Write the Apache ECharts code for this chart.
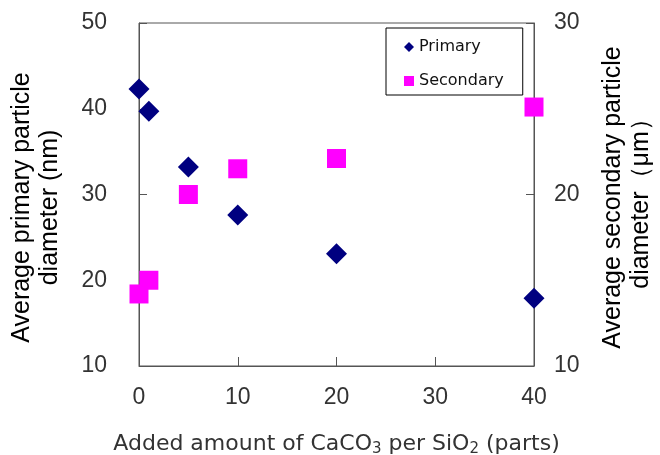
<!DOCTYPE html>
<html>
<head>
<meta charset="utf-8">
<script src="https://cdn.jsdelivr.net/npm/echarts@6/dist/echarts.min.js"></script>
<style>
  html, body { margin: 0; padding: 0; background: #fff; }
  #chart { width: 660px; height: 455px; }
</style>
</head>
<body>
<div id="chart"></div>
<script>
// Amount of CaCO3 added per SiO2 (parts)
const addedAmount = [0, 1, 5, 10, 20, 40];
// Average primary particle diameter (nm), left axis
const primaryDiameter = [42.3, 39.7, 33.2, 27.6, 23.1, 17.9];
// Average secondary particle diameter (μm), right axis
const secondaryDiameter = [14.2, 15.0, 20.0, 21.5, 22.1, 25.1];

const xTicks = [0, 10, 20, 30, 40];
const leftTicks = [10, 20, 30, 40, 50];
const rightTicks = [10, 20, 30];

const axisColor = '#555';
const labelColor = '#333';
const font = 'Liberation Sans, Arial, sans-serif';
const wideFont = 'DejaVu Sans, sans-serif';

const chart = echarts.init(document.getElementById('chart'));

chart.setOption({
  animation: false,
  backgroundColor: '#fff',
  grid: {
    left: 139, right: 126, top: 23, bottom: 89,
    containLabel: false,
    outerBoundsMode: 'none',
    show: true, borderColor: axisColor, borderWidth: 1
  },
  legend: {
    orient: 'vertical',
    left: 386, top: 28,
    padding: [11, 19, 6, 18],
    itemGap: 18,
    itemWidth: 10, itemHeight: 10,
    backgroundColor: '#fff',
    borderColor: '#000', borderWidth: 1,
    textStyle: { fontFamily: wideFont, fontSize: 16, color: '#111' },
    data: [
      { name: 'Primary', icon: 'diamond' },
      { name: 'Secondary', icon: 'rect' }
    ]
  },
  xAxis: {
    type: 'value',
    min: xTicks[0], max: xTicks[xTicks.length - 1], interval: 10,
    axisLine: { lineStyle: { color: axisColor } },
    axisTick: { inside: true, length: 9, lineStyle: { color: axisColor } },
    splitLine: { show: false },
    axisLabel: { margin: 20, fontFamily: font, fontSize: 23, color: labelColor },
    name: '{a|Added amount of CaCO}{s|3}{a| per SiO}{s|2}{a| (parts)}',
    nameLocation: 'middle',
    nameGap: 65,
    nameTextStyle: {
      rich: {
        a: { fontFamily: wideFont, fontSize: 22, color: labelColor },
        s: { fontFamily: wideFont, fontSize: 15, color: labelColor, padding: [11, 0, 0, 0] }
      }
    }
  },
  yAxis: [
    {
      type: 'value',
      min: leftTicks[0], max: leftTicks[leftTicks.length - 1], interval: 10,
      axisLine: { show: true, lineStyle: { color: axisColor } },
      axisTick: { show: true, inside: true, length: 8, lineStyle: { color: axisColor } },
      splitLine: { show: false },
      axisLabel: { margin: 32, fontFamily: font, fontSize: 23, color: labelColor },
      name: 'Average primary particle\ndiameter (nm)',
      nameLocation: 'middle',
      nameRotate: 90,
      nameGap: 75,
      nameTextStyle: { fontFamily: font, fontSize: 25, color: '#000', lineHeight: 28, padding: [0, 26, 0, 0] }
    },
    {
      type: 'value',
      position: 'right',
      min: rightTicks[0], max: rightTicks[rightTicks.length - 1], interval: 10,
      axisLine: { show: true, lineStyle: { color: axisColor } },
      axisTick: { show: true, inside: true, length: 8, lineStyle: { color: axisColor } },
      splitLine: { show: false },
      axisLabel: { margin: 20, fontFamily: font, fontSize: 23, color: labelColor },
      name: 'Average secondary particle\ndiameter\uFF08\u03BCm\uFF09',
      nameLocation: 'middle',
      nameRotate: 90,
      nameGap: 65,
      nameTextStyle: { fontFamily: font, fontSize: 25, color: '#000', lineHeight: 28, padding: [0, 6, 0, 0] }
    }
  ],
  series: [
    {
      name: 'Primary',
      type: 'scatter',
      yAxisIndex: 0,
      symbol: 'diamond',
      symbolSize: 21,
      itemStyle: { color: '#000080', opacity: 1 },
      data: addedAmount.map((x, i) => [x, primaryDiameter[i]])
    },
    {
      name: 'Secondary',
      type: 'scatter',
      yAxisIndex: 1,
      symbol: 'rect',
      symbolSize: 19,
      itemStyle: { color: '#ff00ff', opacity: 1 },
      data: addedAmount.map((x, i) => [x, secondaryDiameter[i]])
    }
  ]
});
</script>
</body>
</html>
